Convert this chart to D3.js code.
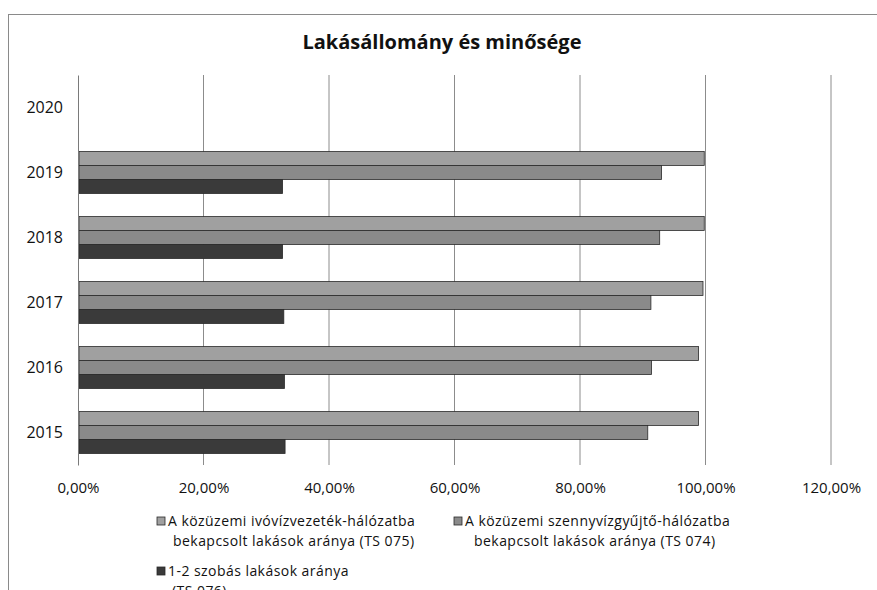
<!DOCTYPE html>
<html>
<head>
<meta charset="utf-8">
<script src="https://cdn.jsdelivr.net/npm/d3@7"></script>
<style>
  body { margin: 0; background: #fff; }
  svg { font-family: "Open Sans", sans-serif; }
  .yAxis text { fill: #111; font-size: 16px; }
  .xAxis text { fill: #111; font-size: 15px; }
</style>
</head>
<body>
<script>
// data
var years = ["2015", "2016", "2017", "2018", "2019", "2020"];
var ivoviz = [98.9, 98.9, 99.6, 99.8, 99.8, null];      // TS 075
var szennyviz = [90.8, 91.4, 91.3, 92.7, 93.0, null];   // TS 074
var szobas = [33.0, 32.9, 32.8, 32.6, 32.6, null];      // TS 076
var xTicks = [0, 20, 40, 60, 80, 100, 120];

var seriesNames = [
  ["A közüzemi ivóvízvezeték-hálózatba", "bekapcsolt lakások aránya (TS 075)"],
  ["A közüzemi szennyvízgyűjtő-hálózatba", "bekapcsolt lakások aránya (TS 074)"],
  ["1-2 szobás lakások aránya", "(TS 076)"]
];
var colors = ["#a0a0a0", "#8a8a8a", "#3a3a3a"];

var data = years.map(function(y, i) {
  return { year: y, values: [ivoviz[i], szennyviz[i], szobas[i]] };
});

// Margin Convention
var margin = {top: 75, left: 78};

var svg = d3.select("body").append("svg")
  .attr("width", 877)
  .attr("height", 590);

// outer chart border
svg.append("rect")
  .attr("x", 8.5).attr("y", 14.5)
  .attr("width", 900).attr("height", 600)
  .attr("fill", "none")
  .attr("stroke", "#8a8a8a");

svg.append("text")
  .attr("x", 442)
  .attr("y", 49)
  .attr("text-anchor", "middle")
  .attr("font-size", "20px")
  .attr("font-weight", "bold")
  .attr("fill", "#111")
  .text("Lakásállomány és minősége");

var g = svg.append("g")
  .attr("transform", "translate(" + margin.left + "," + margin.top + ")");

//Scales
var x = d3.scaleLinear().domain([0, 120]).range([0, 753]);
var y = d3.scaleBand()
  .domain(years.slice().reverse())
  .range([0, 390])
  .paddingInner(0.354)
  .paddingOuter(0.177);
var ySub = d3.scaleBand().domain([0, 1, 2]).range([0, y.bandwidth()]);

// gridlines
g.selectAll(".grid")
  .data(xTicks.slice(1))
  .enter().append("line")
  .attr("class", "grid")
  .attr("x1", d => x(d)).attr("x2", d => x(d))
  .attr("y1", 0).attr("y2", 390)
  .attr("stroke", "#8c8c8c")
  .attr("stroke-width", 1);

// bars
var groups = g.selectAll(".year")
  .data(data)
  .enter().append("g")
  .attr("class", "year")
  .attr("transform", d => "translate(0," + y(d.year) + ")");

groups.selectAll("rect")
  .data(d => d.values.map(function(v, i) { return {i: i, v: v}; }).filter(e => e.v != null))
  .enter().append("rect")
  .attr("x", 1)
  .attr("y", d => ySub(d.i))
  .attr("width", d => x(d.v) - 1)
  .attr("height", ySub.bandwidth())
  .attr("fill", d => colors[d.i])
  .attr("stroke", "#2a2a2a")
  .attr("stroke-width", 0.8);

// axes
g.append("g")
  .attr("class", "yAxis")
  .call(d3.axisLeft(y).tickSize(0).tickPadding(15))
  .call(a => a.select(".domain").attr("stroke", "#7a7a7a"))
  .selectAll("text").attr("font-family", "Open Sans");

g.append("g")
  .attr("class", "xAxis")
  .attr("transform", "translate(0,390)")
  .call(d3.axisBottom(x).tickValues(xTicks).tickSize(0).tickPadding(17)
    .tickFormat(d => d.toFixed(2).replace(".", ",") + "%"))
  .call(a => a.select(".domain").remove())
  .selectAll("text").attr("font-family", "Open Sans");

// legend
var legendPos = [[157, 521], [454, 521], [157, 571]];
var legendIndent = [5, 9, 4];
var legend = svg.selectAll(".legend")
  .data(seriesNames)
  .enter().append("g")
  .attr("class", "legend")
  .attr("transform", (d, i) => "translate(" + legendPos[i][0] + "," + legendPos[i][1] + ")");

legend.append("rect")
  .attr("x", 0).attr("y", -4)
  .attr("width", 8).attr("height", 8)
  .attr("fill", (d, i) => colors[i])
  .attr("stroke", "#2a2a2a")
  .attr("stroke-width", 0.8);

legend.append("text")
  .attr("x", 11).attr("y", 5)
  .attr("font-size", "14px")
  .attr("letter-spacing", "0.45px")
  .attr("fill", "#111")
  .text(d => d[0]);

legend.append("text")
  .attr("x", (d, i) => 11 + legendIndent[i]).attr("y", 25)
  .attr("font-size", "14px")
  .attr("letter-spacing", "0.45px")
  .attr("fill", "#111")
  .text(d => d[1]);
</script>
</body>
</html>
